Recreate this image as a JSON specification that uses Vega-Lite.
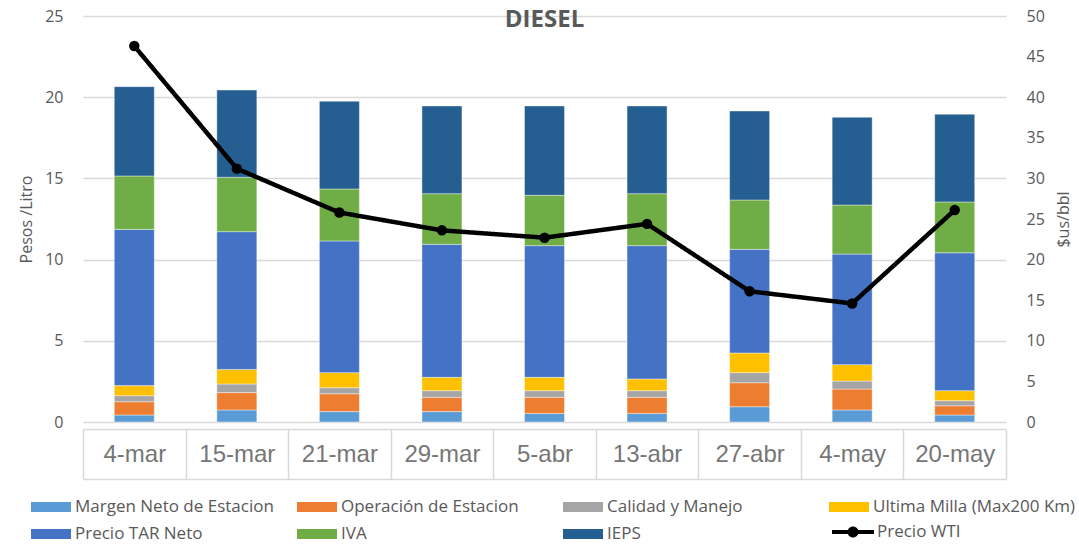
{
  "$schema": "https://vega.github.io/schema/vega-lite/v6.json",
  "width": 923,
  "height": 406,
  "autosize": {"type": "none"},
  "padding": {"left": 83, "top": 16, "right": 73, "bottom": 122},
  "background": "white",
  "config": {"font": "Open Sans", "view": {"stroke": null}},
  "title": {"text": "DIESEL", "fontSize": 24, "fontWeight": "bold", "color": "#595959", "anchor": "middle", "offset": -24, "font": "Open Sans"},
  "datasets": {
    "costs": [
      {"fecha": "4-mar", "componente": "Margen Neto de Estacion", "orden": 1, "valor": 0.43},
      {"fecha": "4-mar", "componente": "Operación de Estacion", "orden": 2, "valor": 0.82},
      {"fecha": "4-mar", "componente": "Calidad y Manejo", "orden": 3, "valor": 0.37},
      {"fecha": "4-mar", "componente": "Ultima Milla (Max200 Km)", "orden": 4, "valor": 0.62},
      {"fecha": "4-mar", "componente": "Precio TAR Neto", "orden": 5, "valor": 9.62},
      {"fecha": "4-mar", "componente": "IVA", "orden": 6, "valor": 3.29},
      {"fecha": "4-mar", "componente": "IEPS", "orden": 7, "valor": 5.50},
      {"fecha": "15-mar", "componente": "Margen Neto de Estacion", "orden": 1, "valor": 0.74},
      {"fecha": "15-mar", "componente": "Operación de Estacion", "orden": 2, "valor": 1.07},
      {"fecha": "15-mar", "componente": "Calidad y Manejo", "orden": 3, "valor": 0.53},
      {"fecha": "15-mar", "componente": "Ultima Milla (Max200 Km)", "orden": 4, "valor": 0.90},
      {"fecha": "15-mar", "componente": "Precio TAR Neto", "orden": 5, "valor": 8.48},
      {"fecha": "15-mar", "componente": "IVA", "orden": 6, "valor": 3.35},
      {"fecha": "15-mar", "componente": "IEPS", "orden": 7, "valor": 5.37},
      {"fecha": "21-mar", "componente": "Margen Neto de Estacion", "orden": 1, "valor": 0.64},
      {"fecha": "21-mar", "componente": "Operación de Estacion", "orden": 2, "valor": 1.10},
      {"fecha": "21-mar", "componente": "Calidad y Manejo", "orden": 3, "valor": 0.37},
      {"fecha": "21-mar", "componente": "Ultima Milla (Max200 Km)", "orden": 4, "valor": 0.93},
      {"fecha": "21-mar", "componente": "Precio TAR Neto", "orden": 5, "valor": 8.11},
      {"fecha": "21-mar", "componente": "IVA", "orden": 6, "valor": 3.20},
      {"fecha": "21-mar", "componente": "IEPS", "orden": 7, "valor": 5.40},
      {"fecha": "29-mar", "componente": "Margen Neto de Estacion", "orden": 1, "valor": 0.64},
      {"fecha": "29-mar", "componente": "Operación de Estacion", "orden": 2, "valor": 0.88},
      {"fecha": "29-mar", "componente": "Calidad y Manejo", "orden": 3, "valor": 0.41},
      {"fecha": "29-mar", "componente": "Ultima Milla (Max200 Km)", "orden": 4, "valor": 0.82},
      {"fecha": "29-mar", "componente": "Precio TAR Neto", "orden": 5, "valor": 8.19},
      {"fecha": "29-mar", "componente": "IVA", "orden": 6, "valor": 3.12},
      {"fecha": "29-mar", "componente": "IEPS", "orden": 7, "valor": 5.40},
      {"fecha": "5-abr", "componente": "Margen Neto de Estacion", "orden": 1, "valor": 0.53},
      {"fecha": "5-abr", "componente": "Operación de Estacion", "orden": 2, "valor": 0.99},
      {"fecha": "5-abr", "componente": "Calidad y Manejo", "orden": 3, "valor": 0.41},
      {"fecha": "5-abr", "componente": "Ultima Milla (Max200 Km)", "orden": 4, "valor": 0.82},
      {"fecha": "5-abr", "componente": "Precio TAR Neto", "orden": 5, "valor": 8.11},
      {"fecha": "5-abr", "componente": "IVA", "orden": 6, "valor": 3.10},
      {"fecha": "5-abr", "componente": "IEPS", "orden": 7, "valor": 5.50},
      {"fecha": "13-abr", "componente": "Margen Neto de Estacion", "orden": 1, "valor": 0.53},
      {"fecha": "13-abr", "componente": "Operación de Estacion", "orden": 2, "valor": 0.99},
      {"fecha": "13-abr", "componente": "Calidad y Manejo", "orden": 3, "valor": 0.41},
      {"fecha": "13-abr", "componente": "Ultima Milla (Max200 Km)", "orden": 4, "valor": 0.72},
      {"fecha": "13-abr", "componente": "Precio TAR Neto", "orden": 5, "valor": 8.21},
      {"fecha": "13-abr", "componente": "IVA", "orden": 6, "valor": 3.20},
      {"fecha": "13-abr", "componente": "IEPS", "orden": 7, "valor": 5.40},
      {"fecha": "27-abr", "componente": "Margen Neto de Estacion", "orden": 1, "valor": 0.94},
      {"fecha": "27-abr", "componente": "Operación de Estacion", "orden": 2, "valor": 1.48},
      {"fecha": "27-abr", "componente": "Calidad y Manejo", "orden": 3, "valor": 0.62},
      {"fecha": "27-abr", "componente": "Ultima Milla (Max200 Km)", "orden": 4, "valor": 1.21},
      {"fecha": "27-abr", "componente": "Precio TAR Neto", "orden": 5, "valor": 6.38},
      {"fecha": "27-abr", "componente": "IVA", "orden": 6, "valor": 3.04},
      {"fecha": "27-abr", "componente": "IEPS", "orden": 7, "valor": 5.48},
      {"fecha": "4-may", "componente": "Margen Neto de Estacion", "orden": 1, "valor": 0.74},
      {"fecha": "4-may", "componente": "Operación de Estacion", "orden": 2, "valor": 1.29},
      {"fecha": "4-may", "componente": "Calidad y Manejo", "orden": 3, "valor": 0.49},
      {"fecha": "4-may", "componente": "Ultima Milla (Max200 Km)", "orden": 4, "valor": 1.01},
      {"fecha": "4-may", "componente": "Precio TAR Neto", "orden": 5, "valor": 6.81},
      {"fecha": "4-may", "componente": "IVA", "orden": 6, "valor": 3.02},
      {"fecha": "4-may", "componente": "IEPS", "orden": 7, "valor": 5.40},
      {"fecha": "20-may", "componente": "Margen Neto de Estacion", "orden": 1, "valor": 0.43},
      {"fecha": "20-may", "componente": "Operación de Estacion", "orden": 2, "valor": 0.57},
      {"fecha": "20-may", "componente": "Calidad y Manejo", "orden": 3, "valor": 0.31},
      {"fecha": "20-may", "componente": "Ultima Milla (Max200 Km)", "orden": 4, "valor": 0.62},
      {"fecha": "20-may", "componente": "Precio TAR Neto", "orden": 5, "valor": 8.49},
      {"fecha": "20-may", "componente": "IVA", "orden": 6, "valor": 3.13},
      {"fecha": "20-may", "componente": "IEPS", "orden": 7, "valor": 5.40}
    ],
    "wti": [
      {"fecha": "4-mar", "wti": 46.3},
      {"fecha": "15-mar", "wti": 31.2},
      {"fecha": "21-mar", "wti": 25.8},
      {"fecha": "29-mar", "wti": 23.6},
      {"fecha": "5-abr", "wti": 22.7},
      {"fecha": "13-abr", "wti": 24.4},
      {"fecha": "27-abr", "wti": 16.1},
      {"fecha": "4-may", "wti": 14.6},
      {"fecha": "20-may", "wti": 26.1}
    ]
  },
  "layer": [
    {
      "data": {"name": "costs"},
      "mark": {"type": "bar", "width": {"band": 0.39}, "stroke": "white", "strokeOpacity": 0.4, "strokeWidth": 1},
      "encoding": {
        "x": {
          "field": "fecha", "type": "nominal", "sort": null,
          "scale": {"paddingInner": 0, "paddingOuter": 0},
          "axis": {
            "title": null, "orient": "bottom", "offset": 7,
            "domainColor": "#d9d9d9", "domainWidth": 1.5,
            "ticks": true, "tickBand": "extent", "tickSize": 50, "tickColor": "#d9d9d9", "tickWidth": 1.5,
            "labelFont": "Liberation Sans", "labelFontSize": 24, "labelColor": "#767676",
            "labelPadding": -25, "labelBaseline": "middle", "labelAngle": 0, "grid": false
          }
        },
        "y": {
          "field": "valor", "type": "quantitative", "stack": "zero",
          "scale": {"domain": [0, 25], "nice": false},
          "axis": {
            "title": "Pesos /Litro", "values": [0, 5, 10, 15, 20, 25],
            "domain": false, "ticks": false, "labelPadding": 20,
            "labelFontSize": 16, "labelColor": "#595959",
            "titleFontSize": 16, "titleFontWeight": "normal", "titleColor": "#595959", "titlePadding": 10,
            "grid": true, "gridColor": "#d9d9d9", "gridWidth": 1.5
          }
        },
        "color": {
          "field": "componente", "type": "nominal",
          "scale": {
            "domain": ["Margen Neto de Estacion", "Operación de Estacion", "Calidad y Manejo", "Ultima Milla (Max200 Km)", "Precio TAR Neto", "IVA", "IEPS"],
            "range": ["#5B9BD5", "#ED7D31", "#A5A5A5", "#FFC000", "#4472C4", "#70AD47", "#255E91"]
          },
          "legend": {
            "orient": "none", "legendX": -42, "legendY": 481,
            "direction": "horizontal", "columns": 4, "title": null, "gridAlign": "all",
            "symbolType": "M-2,-0.5H2V0.5H-2Z",
            "symbolSize": 400, "symbolStrokeWidth": 0, "symbolOpacity": 1,
            "labelFont": "Open Sans", "labelFontSize": 17, "labelColor": "#595959",
            "labelOffset": 14, "columnPadding": 19, "rowPadding": 9, "labelLimit": 300, "padding": 0
          }
        },
        "order": {"field": "orden", "type": "quantitative"}
      }
    },
    {
      "data": {"name": "wti"},
      "mark": {"type": "line", "color": "black", "strokeWidth": 4.5, "point": {"filled": true, "size": 110, "color": "black"}},
      "encoding": {
        "x": {"field": "fecha", "type": "nominal", "sort": null, "axis": null},
        "y": {
          "field": "wti", "type": "quantitative",
          "scale": {"domain": [0, 50], "nice": false},
          "axis": {
            "orient": "right", "title": "$us/bbl", "values": [0, 5, 10, 15, 20, 25, 30, 35, 40, 45, 50],
            "grid": false, "domain": false, "ticks": false, "labelPadding": 20,
            "labelFontSize": 16, "labelColor": "#595959",
            "titleFontSize": 16, "titleFontWeight": "normal", "titleColor": "#595959", "titlePadding": 27, "titleAngle": 270
          }
        },
        "strokeDash": {
          "datum": "Precio WTI",
          "scale": {"range": [[1, 0]]},
          "legend": {
            "orient": "none", "legendX": 760, "legendY": 506, "title": null,
            "symbolType": "M-2.1,-0.2H2.1V0.2H-2.1Z M0.55,0A0.55,0.55,0,1,1,-0.55,0A0.55,0.55,0,1,1,0.55,0Z",
            "symbolSize": 400, "symbolStrokeWidth": 0, "symbolFillColor": "black",
            "labelFont": "Open Sans", "labelFontSize": 17, "labelColor": "#595959",
            "labelOffset": 14, "padding": 0
          }
        }
      }
    },
    {
      "data": {"name": "wti"},
      "mark": {"type": "point", "opacity": 0},
      "encoding": {
        "x": {
          "field": "fecha", "type": "nominal", "sort": null,
          "axis": {"title": null, "orient": "bottom", "offset": 57, "labels": false, "ticks": false, "domain": true, "domainColor": "#d9d9d9", "domainWidth": 1.5, "grid": false}
        }
      }
    }
  ],
  "resolve": {"scale": {"y": "independent"}, "axis": {"x": "independent"}}
}
